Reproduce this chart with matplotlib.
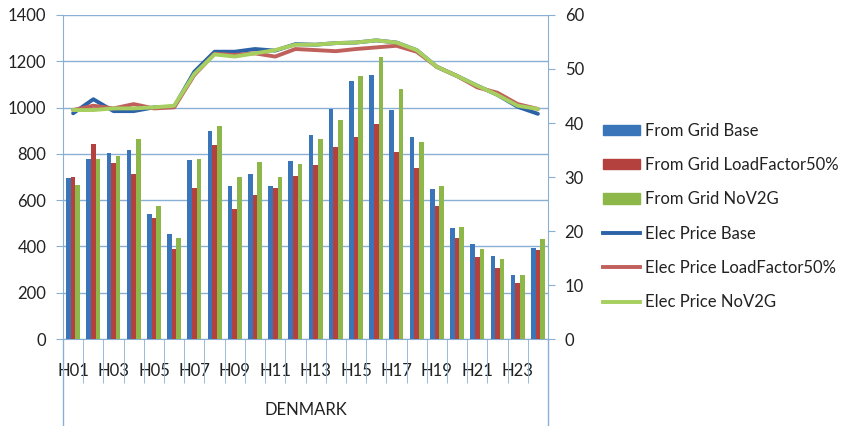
import matplotlib.pyplot as plt
import numpy as np
from matplotlib.patches import Patch
from matplotlib.lines import Line2D

plt.rcParams['font.family'] = ['Lato', 'DejaVu Sans']

hours = [f"H{h:02d}" for h in range(1, 25)]

# energy drawn from grid (left axis)
grid_base = [696, 777, 802, 815, 540, 455, 775, 897, 659, 712, 663, 768,
             882, 994, 1115, 1141, 989, 872, 650, 479, 412, 357, 276, 394]
grid_lf50 = [701, 842, 761, 712, 522, 390, 652, 840, 562, 621, 652, 704,
             750, 830, 872, 928, 807, 738, 573, 437, 354, 307, 242, 383]
grid_nov2g = [666, 777, 792, 866, 574, 436, 776, 922, 701, 763, 701, 757,
              863, 947, 1137, 1217, 1081, 852, 662, 482, 391, 345, 276, 433]

# electricity price (right axis)
price_base = [41.8, 44.4, 42.2, 42.2, 42.9, 43.0, 49.5, 53.2, 53.2, 53.7, 53.4, 54.6,
              54.5, 54.8, 54.9, 55.3, 54.9, 53.5, 50.4, 48.7, 46.9, 45.2, 43.0, 41.7]
price_lf50 = [42.4, 43.2, 42.7, 43.5, 42.7, 42.9, 48.9, 52.8, 52.6, 52.9, 52.3, 53.7,
              53.5, 53.3, 53.7, 54.0, 54.3, 53.2, 50.4, 48.7, 46.6, 45.6, 43.5, 42.6]
price_nov2g = [42.4, 42.4, 42.7, 42.7, 42.9, 43.2, 49.1, 52.7, 52.3, 52.9, 53.5, 54.5,
               54.5, 54.8, 54.9, 55.3, 54.9, 53.5, 50.4, 48.7, 46.9, 45.2, 43.2, 42.6]

bar_colors = ['#3A75BA', '#B5413E', '#8DB849']
line_colors = ['#2C62A8', '#C0605C', '#A6CF5F']
axis_color = '#8AAFD4'
text_color = '#222222'

fig = plt.figure(figsize=(8.56, 4.26), dpi=100)
ax = fig.add_axes([0.0736, 0.2042, 0.5666, 0.7606])
ax2 = ax.twinx()

x = np.arange(len(hours))
w = 0.23
for i, (vals, c) in enumerate(zip([grid_base, grid_lf50, grid_nov2g], bar_colors)):
    ax.bar(x + (i - 1) * w, vals, width=w, color=c, zorder=3)

for vals, c in zip([price_base, price_lf50, price_nov2g], line_colors):
    ax2.plot(x, vals, color=c, lw=2.8, solid_capstyle='round', solid_joinstyle='round')

ax.set_xlim(-0.5, len(hours) - 0.5)
ax.set_ylim(0, 1400)
ax.set_yticks(range(0, 1401, 200))
ax2.set_ylim(0, 60)
ax2.set_yticks(range(0, 61, 10))

ax.grid(axis='y', color=axis_color, lw=1, zorder=0)
ax.set_axisbelow(True)

for a in (ax, ax2):
    a.spines['top'].set_visible(False)
    for side in ('left', 'right', 'bottom'):
        a.spines[side].set_color(axis_color)
ax.spines['right'].set_visible(False)
ax2.spines['left'].set_visible(False)
ax2.spines['bottom'].set_visible(False)

ax.tick_params(axis='y', length=5, color=axis_color, labelsize=12,
               labelcolor=text_color, pad=7)
ax2.tick_params(axis='y', length=5, color=axis_color, labelsize=12,
                labelcolor=text_color, pad=7)

# category labels on every other hour, boundary ticks running down
ax.set_xticks(x[::2])
ax.set_xticklabels(hours[::2])
ax.set_xticks(np.arange(-0.5, len(hours), 1), minor=True)
ax.tick_params(axis='x', which='major', length=0, labelsize=12,
               labelcolor=text_color, pad=17)
ax.tick_params(axis='x', which='minor', length=32, color=axis_color)

# outer group separators and group label
for xe in (0, 1):
    ax.plot([xe, xe], [0, -0.27], transform=ax.transAxes, color=axis_color,
            lw=1, clip_on=False)
ax.text(0.5, -0.22, 'DENMARK', transform=ax.transAxes, ha='center', va='center',
        fontsize=12, color=text_color)

handles = [Patch(color=c) for c in bar_colors] + \
          [Line2D([], [], color=c, lw=2.8) for c in line_colors]
labels = ['From Grid Base', 'From Grid LoadFactor50%', 'From Grid NoV2G',
          'Elec Price Base', 'Elec Price LoadFactor50%', 'Elec Price NoV2G']
fig.legend(handles, labels, loc='upper left', bbox_to_anchor=(0.705, 0.712),
           frameon=False, fontsize=12, handlelength=2.2, handleheight=0.6,
           handletextpad=0.3, labelspacing=1.1, labelcolor=text_color,
           borderaxespad=0, borderpad=0)

fig.savefig('out.png', dpi=100)
